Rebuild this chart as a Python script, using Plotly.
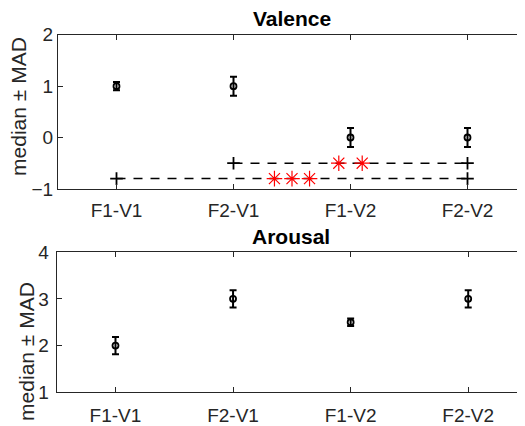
import plotly.graph_objects as go

categories = ["F1-V1", "F2-V1", "F1-V2", "F2-V2"]
cat_pos = [1, 2, 3, 4]

valence_median = [1, 1, 0, 0]
valence_mad = [0.08, 0.185, 0.185, 0.185]
arousal_median = [2, 3, 2.5, 3]
arousal_mad = [0.185, 0.185, 0.08, 0.185]

# significance bars (valence panel)
sig_y = [-0.8, -0.5]
sig_start = [1, 2]
sig_end = [4, 4]
stars_low_x = [2.35, 2.5, 2.65]
stars_high_x = [2.9, 3.1]

W, H = 525, 426
# empirical placement of the drawing area inside the captured window
OX, OY, HE = 8, 16, 410
AX = "#262626"
FONT = "Liberation Sans, Arial, sans-serif"


def fx(px):
    return (px - OX) / W


def fy(py):
    return 1 - (py - OY) / HE


fig = go.Figure()


def err_trace(y, e, xa, ya):
    return go.Scatter(
        x=cat_pos, y=y, xaxis=xa, yaxis=ya, mode="markers",
        marker=dict(symbol="circle-open", size=6, color="black",
                    line=dict(width=1.8, color="black")),
        error_y=dict(type="data", array=e, visible=True, thickness=2,
                     width=3.5, color="black"),
        showlegend=False, hoverinfo="skip",
    )


for yv, x0, x1 in zip(sig_y, sig_start, sig_end):
    fig.add_trace(go.Scatter(
        x=[x0, x1], y=[yv, yv], xaxis="x", yaxis="y", mode="lines+markers",
        line=dict(color="black", width=1.5, dash="9px,8px"),
        marker=dict(symbol="cross-thin-open", size=9, color="black",
                    line=dict(width=1.8, color="black")),
        showlegend=False, hoverinfo="skip",
    ))

for sx, sy in ((stars_low_x, sig_y[0]), (stars_high_x, sig_y[1])):
    fig.add_trace(go.Scatter(
        x=sx, y=[sy] * len(sx), xaxis="x", yaxis="y", mode="markers",
        marker=dict(symbol="asterisk-open", size=13, color="#ff0000",
                    line=dict(width=1.2, color="#ff0000")),
        showlegend=False, hoverinfo="skip",
    ))

fig.add_trace(err_trace(valence_median, valence_mad, "x", "y"))
fig.add_trace(err_trace(arousal_median, arousal_mad, "x2", "y2"))


def xaxis(domain, anchor, standoff):
    return dict(
        domain=domain, range=[0.5, 4.5], anchor=anchor,
        tickmode="array", tickvals=cat_pos, ticktext=categories,
        ticks="inside", ticklen=5, tickcolor=AX, tickwidth=1,
        showline=True, linecolor=AX, linewidth=1, mirror="ticks",
        showgrid=False, zeroline=False, ticklabelstandoff=standoff,
        tickfont=dict(family=FONT, size=19, color=AX),
    )


def yaxis(domain, rng, anchor, standoff):
    return dict(
        domain=domain, range=rng, anchor=anchor, dtick=1,
        ticks="inside", ticklen=5, tickcolor=AX, tickwidth=1,
        showline=True, linecolor=AX, linewidth=1, mirror="ticks",
        showgrid=False, zeroline=False, ticklabelstandoff=standoff,
        tickfont=dict(family=FONT, size=19, color=AX),
    )


fig.update_layout(
    width=W, height=H,
    margin=dict(l=0, r=0, t=0, b=0),
    paper_bgcolor="white", plot_bgcolor="white",
    xaxis=xaxis([fx(58), fx(526)], "y", 4),
    yaxis=yaxis([fy(189), fy(33)], [-1, 2], "x", 0),
    xaxis2=xaxis([fx(56.7), fx(527)], "y2", 6),
    yaxis2=yaxis([fy(395), fy(253)], [1, 4], "x2", 3),
    annotations=[
        dict(text="<b>Valence</b>", x=fx(292), y=fy(16), xref="paper", yref="paper",
             xanchor="center", yanchor="middle", showarrow=False,
             font=dict(family=FONT, size=21, color="black")),
        dict(text="<b>Arousal</b>", x=fx(291), y=fy(237), xref="paper", yref="paper",
             xanchor="center", yanchor="middle", showarrow=False,
             font=dict(family=FONT, size=21, color="black")),
        dict(text="median ± MAD", x=fx(19), y=fy(106), xref="paper", yref="paper",
             xanchor="center", yanchor="middle", textangle=-90, showarrow=False,
             font=dict(family=FONT, size=21, color=AX)),
        dict(text="median ± MAD", x=fx(27), y=fy(354), xref="paper", yref="paper",
             xanchor="center", yanchor="middle", textangle=-90, showarrow=False,
             font=dict(family=FONT, size=21, color=AX)),
    ],
)

fig.write_html("out.html")
